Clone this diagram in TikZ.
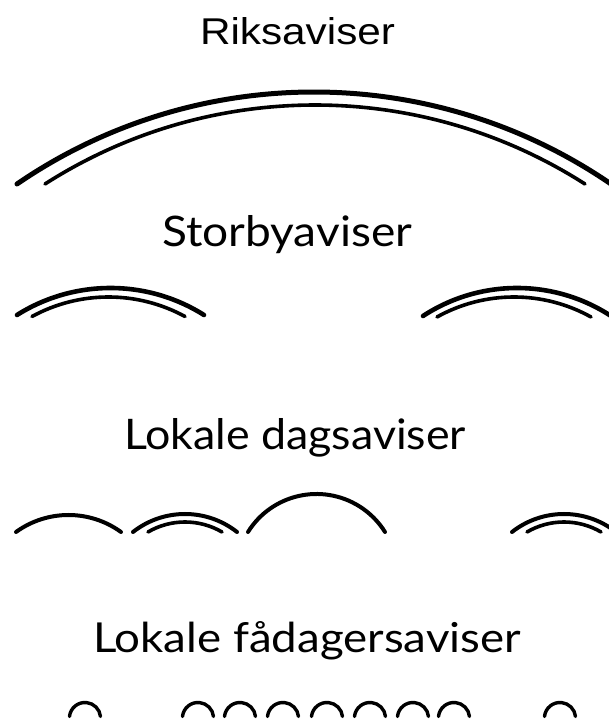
\documentclass[tikz,border=0pt]{standalone}
\usepackage{fontspec}
\setmainfont{Liberation Sans}
\newfontfamily\gillfont{Lato}
\newcommand\archx[5]{%
  \pgfmathsetmacro\arcA{#1}%
  \pgfmathsetmacro\arcB{#2}%
  \pgfmathsetmacro\arcC{(\arcB-\arcA)/2}%
  \pgfmathsetmacro\arcR{(\arcC*(\arcC/#4)+#4)/2}%
  \pgfmathsetmacro\arcT{atan2(\arcR-#4,\arcC)}%
  \draw[archline,line width=#5pt] (\arcA,719-#3) arc[start angle=180-\arcT, end angle=\arcT, radius=\arcR pt];%
}
\newcommand\smallarc[1]{\archx{#1-15.5}{#1+15.5}{716.5}{14}{3.4}}
\begin{document}
\begin{tikzpicture}[x=1pt,y=1pt,
  archline/.style={line cap=round, black},
  label/.style={anchor=base west, inner sep=0pt, outer sep=0pt}]
\fill[white] (0,0) rectangle (609,719);
\useasboundingbox (0,0) rectangle (609,719);
% labels
\node[label] (riks) at (200,719-45) {\resizebox{195pt}{27pt}{Riksaviser}};
\node[label] (storby) at (162,719-247) {\resizebox{250pt}{31pt}{\gillfont Storbyaviser}};
\node[label] (lokdag) at (124,719-450) {\resizebox{342pt}{31pt}{\gillfont Lokale dagsaviser}};
\node[label] (lokfaa) at (93,719-653) {\resizebox{428pt}{31pt}{\gillfont Lokale fådagersaviser}};
% Riksaviser
\archx{17}{611}{184}{92}{5}
\archx{45}{585}{184}{79}{3.6}
% Storbyaviser
\archx{17}{204}{315}{27}{4.6}
\archx{32}{185}{316.5}{19.5}{3.6}
\archx{423}{611}{316}{28}{4.6}
\archx{437}{591}{317}{20}{3.6}
% Lokale dagsaviser
\archx{16}{121}{532}{17}{4}
\archx{133}{237}{532}{18}{4}
\archx{148}{222}{532}{10}{3.6}
\archx{248}{385}{532}{38}{4}
\archx{512}{616}{532}{18}{4}
\archx{527}{601}{532}{10}{3.6}
% Lokale faadagersaviser
\foreach \cx in {85,198,240,283,327,370,413,454,560}{\smallarc{\cx}}
\end{tikzpicture}
\end{document}
